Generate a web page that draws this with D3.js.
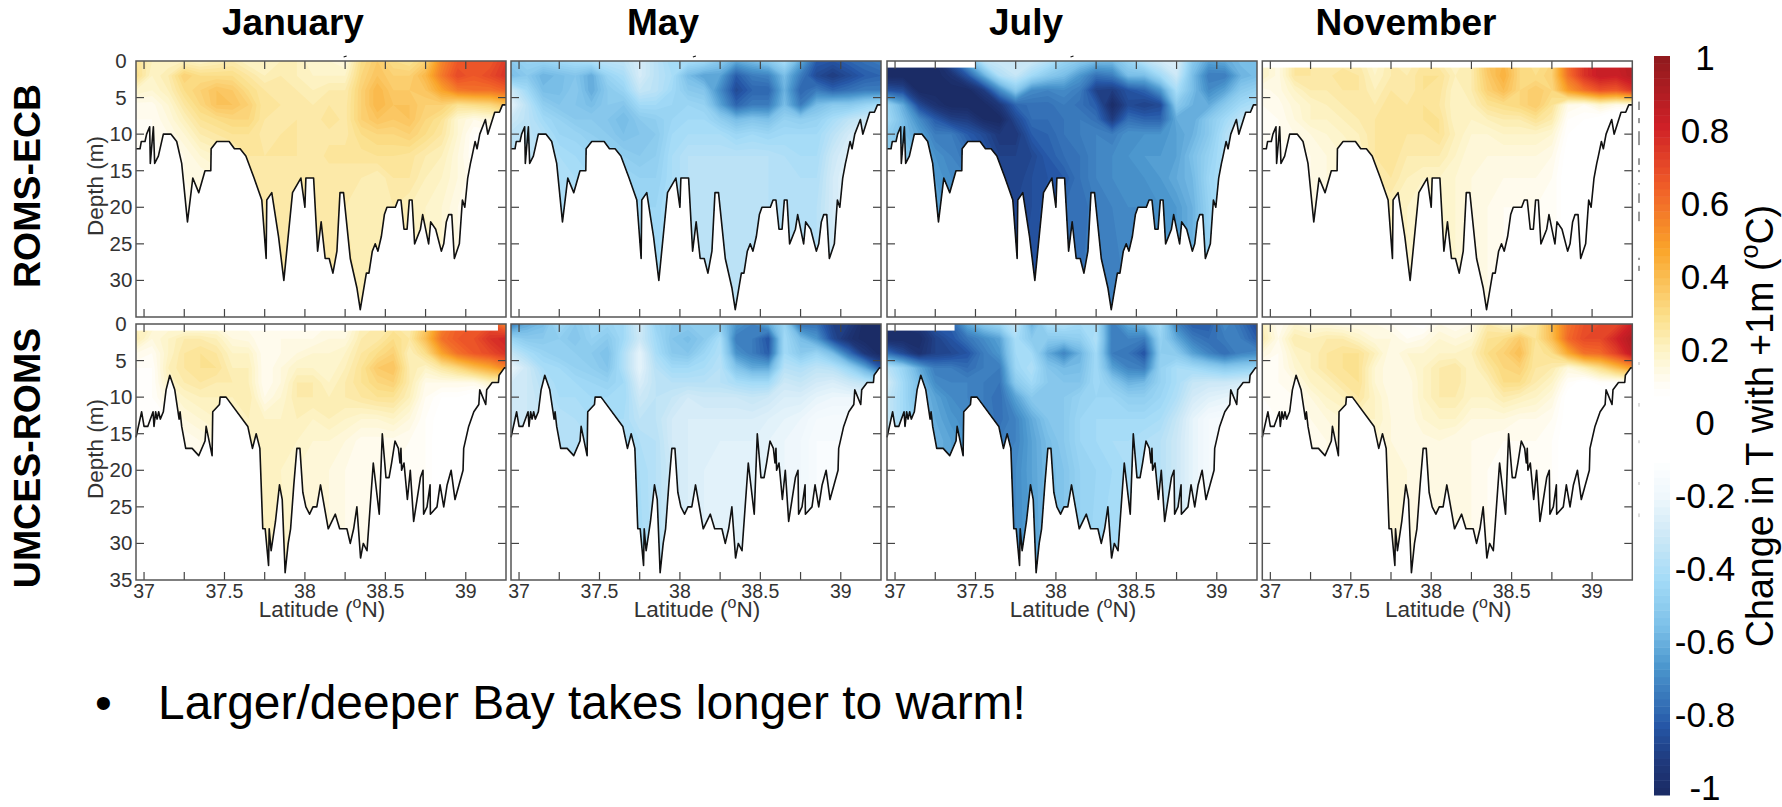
<!DOCTYPE html>
<html>
<head>
<meta charset="utf-8">
<script src="https://cdnjs.cloudflare.com/ajax/libs/d3/7.8.5/d3.min.js"></script>
<style>
    html, body { margin: 0; padding: 0; background: #fff; }
    svg { display: block; font-family: "Liberation Sans", Arial, sans-serif; }
</style>
</head>
<body>
<svg width="1782" height="807"></svg>
<script>
// ---- data ----
const months = ["January", "May", "July", "November"]
const models = ["ROMS-ECB", "UMCES-ROMS"]

const xTicks = [37, 37.25, 37.5, 37.75, 38, 38.25, 38.5, 38.75, 39, 39.25]
const xLabels = [37, 37.5, 38, 38.5, 39]
const yTicks = [0, 5, 10, 15, 20, 25, 30, 35]
const barLabels = ["1", "0.8", "0.6", "0.4", "0.2", "0", "-0.2", "-0.4", "-0.6", "-0.8", "-1"]

// colour bar stops
const colorStops = [-1, -.905, -.815, -.78, -.653, -.544, -.418, -.30, -.193, -.093, .08, .115, .204, .294, .475, .656, .81, 1]
const colorValues = ["#1b2a63", "#1f3a7d", "#2555a5", "#2e66b0", "#4b96cd", "#7cc0e8", "#a3dbf7", "#cce8f6", "#eef7fc", "#ffffff", "#ffffff", "#fffdf5", "#fdf3c6", "#fbe08c", "#faa52a", "#ef5a28", "#cf2027", "#8f1a1e"]

// bottom profile of each model
const ecbLat = [36.95,36.975,36.983,37.006,37.016,37.035,37.039,37.058,37.066,37.089,37.12,37.168,37.203,37.234,37.27,37.303,37.34,37.379,37.415,37.417,37.452,37.529,37.562,37.597,37.633,37.684,37.732,37.759,37.763,37.794,37.836,37.869,37.923,37.975,38.0,38.006,38.054,38.079,38.101,38.126,38.151,38.174,38.199,38.218,38.24,38.282,38.323,38.344,38.382,38.398,38.419,38.437,38.454,38.475,38.494,38.51,38.562,38.579,38.597,38.616,38.635,38.649,38.666,38.682,38.718,38.732,38.769,38.782,38.813,38.848,38.863,38.879,38.894,38.913,38.929,38.96,38.979,38.994,39.012,39.029,39.039,39.058,39.07,39.087,39.122,39.137,39.18,39.209,39.228,39.25]
const ecbDepth = [12,12,11,11,10,9,14,9,14,13,10,10,11,14,22,16,18,15,15,12,11,11,12,12,13,16,19,27,19,18,24,30,18,16,20,16,16,26,22,27,27,29,26,18,18,27,31,34,29,29,26,25,26,24,21,20,20,19,19,23,23,19,19,25,23,21,25,22,23,26,25,22,21,21,27,25,19,20,16,14,13,11,12,10,8,10,7,7,6,6]
const umcesLat = [36.95,36.985,37.0,37.023,37.056,37.062,37.072,37.081,37.091,37.101,37.12,37.137,37.16,37.191,37.218,37.224,37.234,37.259,37.299,37.34,37.379,37.386,37.423,37.427,37.469,37.473,37.51,37.645,37.674,37.697,37.72,37.738,37.753,37.774,37.778,37.79,37.817,37.842,37.859,37.877,37.896,37.911,37.931,37.95,37.969,37.987,38.006,38.029,38.05,38.074,38.097,38.145,38.189,38.216,38.261,38.282,38.303,38.323,38.346,38.363,38.386,38.425,38.462,38.481,38.504,38.523,38.539,38.56,38.581,38.591,38.597,38.601,38.616,38.637,38.655,38.676,38.697,38.718,38.734,38.738,38.759,38.778,38.78,38.821,38.84,38.863,38.884,38.909,38.933,38.983,38.987,39.018,39.05,39.081,39.087,39.124,39.13,39.164,39.203,39.207,39.24,39.25]
const umcesDepth = [15.5,12,14,14,12,14,12,13,12,13,12,9,7,9,13,12,14,17,17,18,16,14,18,12,11,10,10,14,17,15,17,28,28,33,28,31,27,22,24,34,30,28,22,17,17,23,25,26,25,25,22,28,26,28,28,30,28,25,32,30,31,19,26,15,21,21,19,16,17,19,17,20,19,24,20,27,24,21,20,26,25,22,26,25,22,25,22,20,24,20,17,14,12,11,9,11,9,8,8,7,6,6]

// grid of the change in temperature: one row per depth, one column per latitude
const gridLat = [36.95,37.05,37.15,37.25,37.35,37.45,37.55,37.65,37.75,37.85,37.95,38.05,38.15,38.25,38.35,38.45,38.55,38.65,38.75,38.85,38.95,39.05,39.15,39.25]
const gridDepth = [0, 2, 4, 6, 8, 10, 13, 16, 20, 35]

const ecbJanuary = [
    [.28,.22,.2,.22,.2,.22,.24,.2,.2,.22,.22,.18,.18,.16,.3,.36,.3,.28,.34,.55,.66,.66,.66,.74],
    [.3,.2,.24,.34,.3,.3,.3,.26,.22,.24,.22,.2,.2,.2,.32,.38,.34,.34,.42,.58,.7,.66,.7,.76],
    [.2,.18,.22,.3,.34,.38,.36,.3,.26,.25,.24,.22,.24,.24,.34,.42,.36,.36,.38,.48,.58,.6,.6,.64],
    [.13,.13,.18,.26,.32,.38,.38,.34,.26,.26,.25,.24,.26,.25,.34,.42,.38,.38,.34,.34,.28,.3,.32,.38],
    [.12,.12,.16,.22,.28,.3,.32,.32,.26,.25,.26,.24,.28,.25,.34,.38,.36,.38,.32,.28,.18,.14,.16,.2],
    [.12,.12,.14,.18,.24,.26,.28,.28,.25,.26,.26,.25,.25,.25,.3,.32,.32,.34,.3,.26,.18,.1,.1,.1],
    [.1,.1,.12,.14,.18,.2,.22,.26,.26,.26,.26,.24,.27,.27,.27,.28,.28,.27,.24,.22,.16,.1,.1,.1],
    [.1,.1,.12,.14,.14,.16,.2,.24,.24,.24,.24,.24,.24,.24,.24,.22,.26,.26,.22,.2,.16,.12,.1,.1],
    [.1,.1,.1,.12,.14,.16,.2,.22,.24,.24,.24,.24,.24,.24,.22,.22,.24,.22,.2,.18,.14,.1,.1,.1],
    [.1,.1,.1,.12,.14,.16,.2,.22,.24,.24,.24,.24,.24,.24,.24,.22,.22,.22,.2,.18,.14,.1,.1,.1]
]
const ecbMay = [
    [-.5,-.45,-.45,-.42,-.4,-.38,-.35,-.34,-.27,-.35,-.42,-.4,-.42,-.5,-.6,-.55,-.5,-.4,-.6,-.8,-.82,-.78,-.75,-.72],
    [-.55,-.5,-.58,-.55,-.52,-.6,-.45,-.4,-.27,-.35,-.4,-.55,-.62,-.62,-.8,-.72,-.7,-.55,-.72,-.85,-.9,-.85,-.8,-.78],
    [-.3,-.42,-.55,-.55,-.5,-.6,-.5,-.45,-.32,-.35,-.42,-.5,-.52,-.68,-.85,-.78,-.78,-.58,-.78,-.72,-.78,-.75,-.72,-.72],
    [-.22,-.35,-.48,-.52,-.52,-.55,-.5,-.52,-.42,-.42,-.44,-.44,-.46,-.62,-.78,-.72,-.72,-.55,-.72,-.55,-.5,-.5,-.45,-.4],
    [-.3,-.35,-.42,-.46,-.5,-.5,-.52,-.56,-.5,-.48,-.44,-.42,-.42,-.48,-.55,-.52,-.54,-.46,-.48,-.46,-.4,-.34,-.3,-.3],
    [-.35,-.35,-.38,-.44,-.45,-.48,-.5,-.54,-.52,-.5,-.42,-.4,-.4,-.4,-.44,-.42,-.44,-.42,-.42,-.42,-.35,-.28,-.25,-.25],
    [-.35,-.35,-.36,-.4,-.42,-.44,-.46,-.48,-.5,-.48,-.4,-.36,-.36,-.36,-.36,-.36,-.36,-.38,-.4,-.4,-.3,-.24,-.22,-.22],
    [-.36,-.36,-.36,-.4,-.4,-.42,-.44,-.44,-.46,-.46,-.4,-.36,-.36,-.35,-.35,-.36,-.36,-.38,-.38,-.38,-.28,-.22,-.2,-.2],
    [-.36,-.36,-.36,-.4,-.4,-.42,-.42,-.42,-.44,-.44,-.38,-.36,-.36,-.36,-.36,-.36,-.36,-.38,-.38,-.36,-.28,-.22,-.2,-.2],
    [-.36,-.36,-.36,-.42,-.4,-.42,-.42,-.42,-.42,-.42,-.38,-.36,-.36,-.36,-.36,-.36,-.36,-.38,-.38,-.36,-.28,-.22,-.2,-.2]
]
const ecbJuly = [
    [-1,-1,-1,-.98,-.8,-.58,-.34,-.3,-.3,-.3,-.36,-.45,-.5,-.55,-.55,-.45,-.35,-.28,-.25,-.5,-.62,-.6,-.55,-.55],
    [-1,-1,-1,-1,-.95,-.82,-.6,-.38,-.32,-.42,-.5,-.55,-.65,-.75,-.72,-.55,-.55,-.42,-.3,-.55,-.72,-.72,-.58,-.55],
    [-.82,-.85,-1,-1,-1,-1,-.9,-.68,-.5,-.68,-.7,-.68,-.72,-.88,-.9,-.82,-.78,-.65,-.4,-.55,-.68,-.62,-.5,-.46],
    [-.45,-.6,-.85,-.95,-1,-1,-1,-.92,-.78,-.75,-.75,-.72,-.75,-.8,-.98,-.85,-.88,-.85,-.5,-.58,-.6,-.5,-.42,-.38],
    [-.42,-.55,-.68,-.8,-.88,-.9,-.98,-1,-.86,-.76,-.76,-.74,-.72,-.75,-.9,-.75,-.78,-.78,-.6,-.6,-.5,-.42,-.34,-.3],
    [-.48,-.55,-.62,-.72,-.72,-.8,-.85,-.92,-.92,-.8,-.78,-.74,-.72,-.7,-.72,-.66,-.66,-.66,-.62,-.58,-.5,-.38,-.3,-.3],
    [-.5,-.5,-.56,-.66,-.7,-.74,-.8,-.88,-.88,-.86,-.8,-.76,-.74,-.7,-.68,-.66,-.64,-.64,-.62,-.54,-.46,-.38,-.3,-.3],
    [-.5,-.5,-.55,-.64,-.68,-.7,-.74,-.85,-.88,-.84,-.82,-.8,-.74,-.7,-.68,-.66,-.66,-.64,-.6,-.56,-.44,-.38,-.3,-.3],
    [-.5,-.5,-.55,-.62,-.66,-.7,-.74,-.82,-.86,-.84,-.8,-.76,-.76,-.72,-.7,-.68,-.68,-.66,-.64,-.58,-.46,-.38,-.3,-.3],
    [-.5,-.5,-.55,-.62,-.66,-.7,-.74,-.82,-.84,-.84,-.78,-.74,-.74,-.72,-.72,-.7,-.7,-.66,-.64,-.58,-.46,-.38,-.3,-.3]
]
const ecbNovember = [
    [.2,.15,.26,.26,.24,.24,.24,.18,.24,.22,.26,.24,.2,.24,.38,.42,.32,.28,.32,.62,.76,.84,.84,.88],
    [.2,.15,.26,.26,.25,.28,.26,.2,.24,.24,.28,.28,.22,.24,.36,.44,.32,.3,.34,.6,.76,.84,.82,.88],
    [.13,.15,.2,.24,.24,.26,.26,.22,.26,.24,.28,.27,.2,.24,.34,.4,.32,.36,.32,.5,.6,.68,.66,.75],
    [.12,.13,.17,.2,.22,.24,.24,.24,.28,.26,.28,.26,.2,.22,.28,.3,.32,.36,.28,.14,.12,.18,.14,.14],
    [.12,.12,.16,.2,.2,.22,.24,.26,.27,.26,.28,.28,.2,.2,.22,.24,.24,.28,.24,.1,.08,.05,0,0],
    [.12,.12,.14,.16,.18,.2,.22,.26,.28,.26,.26,.28,.22,.18,.18,.2,.2,.2,.18,.08,0,0,0,0],
    [.12,.12,.12,.14,.16,.18,.2,.26,.28,.24,.24,.24,.2,.16,.16,.16,.16,.16,.14,.06,0,-.05,0,0],
    [.12,.12,.12,.14,.16,.18,.2,.24,.26,.22,.2,.2,.18,.16,.14,.14,.14,.14,.12,.05,0,0,0,0],
    [.1,.1,.12,.14,.16,.18,.18,.22,.22,.2,.18,.18,.18,.16,.14,.12,.12,.12,.12,.05,0,0,0,0],
    [.1,.1,.12,.14,.16,.18,.18,.22,.22,.2,.18,.18,.18,.16,.14,.12,.12,.12,.12,.05,0,0,0,0]
]
const umcesJanuary = [
    [.22,.2,.16,.14,.14,.15,.14,.13,.15,.13,.12,.12,.14,.12,.22,.24,.26,.24,.36,.55,.64,.66,.68,.55],
    [.24,.16,.2,.24,.24,.22,.16,.15,.12,.14,.14,.14,.16,.16,.24,.25,.3,.26,.4,.6,.66,.68,.76,.8],
    [.14,.12,.2,.26,.28,.26,.2,.2,.12,.14,.16,.18,.18,.2,.26,.3,.34,.22,.3,.48,.6,.66,.7,.76],
    [.1,.1,.22,.26,.28,.28,.22,.22,.12,.16,.2,.2,.18,.22,.28,.36,.38,.24,.2,.26,.32,.4,.46,.55],
    [.08,.1,.2,.24,.26,.24,.24,.22,.12,.16,.24,.24,.2,.24,.28,.32,.34,.24,.14,.14,.14,.14,.2,.2],
    [.1,.1,.16,.2,.22,.22,.22,.24,.14,.18,.24,.24,.22,.24,.26,.28,.28,.22,.12,.08,.08,.05,.05,.05],
    [.1,.1,.1,.16,.18,.2,.2,.22,.2,.2,.22,.2,.22,.2,.18,.18,.2,.16,.1,.06,.05,.05,.05,.05],
    [.1,.1,.1,.12,.14,.16,.16,.2,.2,.2,.2,.18,.18,.16,.13,.13,.13,.12,.1,.05,.05,.05,.05,.05],
    [.1,.1,.1,.12,.14,.15,.15,.2,.2,.2,.18,.16,.16,.14,.13,.12,.12,.12,.1,.05,.05,.05,.05,.05],
    [.1,.1,.1,.12,.14,.15,.15,.2,.22,.22,.18,.16,.16,.14,.13,.12,.12,.12,.1,.05,.05,.05,.05,.05]
]
const umcesMay = [
    [-.72,-.6,-.55,-.42,-.5,-.45,-.45,-.42,-.28,-.45,-.5,-.5,-.48,-.5,-.65,-.7,-.6,-.45,-.75,-.75,-.88,-.9,-1,-1],
    [-.45,-.5,-.5,-.48,-.52,-.46,-.5,-.42,-.3,-.42,-.52,-.55,-.5,-.4,-.72,-.72,-.82,-.42,-.55,-.65,-.85,-.95,-1,-1],
    [-.32,-.4,-.45,-.48,-.48,-.5,-.54,-.38,-.22,-.4,-.5,-.52,-.44,-.38,-.66,-.72,-.8,-.42,-.5,-.45,-.55,-.75,-.92,-1],
    [-.2,-.3,-.4,-.42,-.46,-.48,-.52,-.38,-.22,-.36,-.42,-.42,-.4,-.36,-.52,-.6,-.6,-.36,-.38,-.34,-.36,-.45,-.6,-.8],
    [-.28,-.3,-.36,-.42,-.42,-.44,-.46,-.42,-.26,-.34,-.36,-.36,-.36,-.36,-.4,-.42,-.42,-.3,-.32,-.28,-.26,-.3,-.34,-.4],
    [-.3,-.3,-.34,-.4,-.4,-.42,-.42,-.42,-.3,-.34,-.32,-.28,-.3,-.3,-.3,-.32,-.3,-.26,-.26,-.22,-.2,-.2,-.2,-.2],
    [-.3,-.3,-.32,-.36,-.38,-.4,-.4,-.4,-.34,-.34,-.28,-.26,-.26,-.26,-.26,-.26,-.24,-.22,-.2,-.16,-.15,-.15,-.15,-.15],
    [-.3,-.3,-.32,-.36,-.38,-.38,-.38,-.4,-.38,-.36,-.28,-.26,-.26,-.24,-.24,-.24,-.22,-.2,-.18,-.14,-.14,-.14,-.14,-.14],
    [-.3,-.3,-.32,-.36,-.38,-.38,-.38,-.4,-.4,-.36,-.3,-.26,-.24,-.24,-.24,-.22,-.22,-.2,-.18,-.14,-.14,-.14,-.14,-.14],
    [-.3,-.3,-.32,-.36,-.38,-.38,-.38,-.42,-.42,-.36,-.3,-.26,-.24,-.22,-.22,-.22,-.22,-.2,-.18,-.14,-.14,-.14,-.14,-.14]
]
const umcesJuly = [
    [-.98,-.95,-.92,-.8,-.78,-.6,-.5,-.44,-.32,-.58,-.4,-.38,-.42,-.4,-.72,-.6,-.55,-.42,-.7,-.8,-.8,-.68,-.75,-.85],
    [-.98,-.98,-.98,-.88,-.82,-.74,-.68,-.62,-.4,-.5,-.5,-.5,-.48,-.38,-.72,-.7,-.72,-.46,-.6,-.72,-.76,-.72,-.72,-.8],
    [-.75,-.85,-.95,-.88,-.86,-.82,-.72,-.65,-.42,-.42,-.6,-.7,-.58,-.42,-.72,-.74,-.82,-.48,-.5,-.62,-.7,-.76,-.7,-.68],
    [-.35,-.45,-.6,-.72,-.72,-.76,-.72,-.72,-.44,-.38,-.52,-.56,-.55,-.42,-.62,-.7,-.72,-.46,-.4,-.42,-.46,-.5,-.48,-.46],
    [-.28,-.42,-.55,-.68,-.7,-.7,-.72,-.74,-.5,-.42,-.5,-.52,-.52,-.42,-.5,-.58,-.56,-.46,-.4,-.32,-.3,-.3,-.28,-.25],
    [-.32,-.42,-.55,-.62,-.68,-.7,-.72,-.76,-.62,-.5,-.52,-.5,-.46,-.44,-.44,-.48,-.48,-.44,-.38,-.28,-.24,-.22,-.2,-.2],
    [-.32,-.42,-.5,-.6,-.65,-.68,-.72,-.75,-.7,-.6,-.52,-.5,-.44,-.42,-.42,-.42,-.42,-.4,-.32,-.22,-.16,-.15,-.15,-.15],
    [-.32,-.42,-.5,-.58,-.62,-.66,-.7,-.72,-.7,-.62,-.55,-.5,-.44,-.42,-.4,-.4,-.38,-.36,-.3,-.22,-.16,-.15,-.15,-.15],
    [-.32,-.42,-.5,-.58,-.62,-.66,-.7,-.7,-.68,-.62,-.56,-.52,-.46,-.44,-.42,-.4,-.38,-.36,-.3,-.22,-.16,-.15,-.15,-.15],
    [-.32,-.42,-.5,-.58,-.62,-.66,-.7,-.7,-.68,-.64,-.56,-.52,-.46,-.42,-.4,-.38,-.36,-.34,-.3,-.22,-.16,-.15,-.15,-.15]
]
const umcesNovember = [
    [.22,.12,.18,.16,.16,.14,.14,.14,.12,.1,.08,.14,.12,.14,.24,.2,.2,.26,.42,.6,.68,.7,.7,.82],
    [.24,.14,.24,.22,.24,.24,.2,.16,.16,.12,.14,.18,.16,.18,.28,.3,.36,.28,.4,.62,.7,.7,.8,.9],
    [.16,.12,.2,.22,.26,.28,.28,.22,.14,.18,.18,.2,.2,.22,.3,.34,.4,.26,.3,.46,.6,.62,.72,.86],
    [.1,.12,.18,.22,.26,.28,.28,.18,.14,.16,.2,.24,.26,.2,.26,.32,.34,.26,.24,.16,.22,.3,.4,.5],
    [.1,.12,.14,.2,.22,.26,.28,.18,.14,.14,.2,.24,.26,.2,.22,.3,.3,.24,.2,.1,.06,.1,.1,.1],
    [.1,.12,.12,.16,.2,.22,.26,.2,.15,.14,.2,.24,.24,.2,.2,.24,.22,.2,.16,.06,0,0,0,0],
    [.1,.1,.1,.14,.16,.18,.2,.2,.16,.14,.18,.2,.2,.16,.16,.16,.14,.14,.12,.06,0,0,0,0],
    [.1,.1,.1,.12,.14,.16,.18,.18,.16,.14,.15,.16,.14,.14,.13,.12,.12,.12,.1,.05,0,0,0,0],
    [.1,.1,.1,.12,.14,.16,.16,.16,.16,.16,.14,.14,.14,.14,.12,.12,.12,.12,.1,.05,0,0,0,0],
    [.1,.1,.1,.12,.14,.16,.16,.16,.16,.16,.14,.14,.14,.14,.12,.12,.12,.12,.1,.05,0,0,0,0]
]

// where the top layer has no values: [from latitude, to latitude], null when filled
const ecbTopGaps = [null, null, [36.95, 37.5], [36.95, 39.25]]
const umcesTopGaps = [[36.95, 39.2], null, [36.95, 37.37], null]
const topGapDepth = 0.9

// stray marks of the original figure
const strayLat = [38.25, 38.09, 38.10]
const ecbSideMarks = [[5.55,6.7],[7.8,8.5],[9.6,11.5],[13.3,14.2],[14.9,15.2],[16.7,16.9],[18.1,19.4],[20.6,21.9],[26.9,27.2],[28,28.7]]
const umcesSideMarks = [[5.2,5.6],[10.8,11.3],[15.9,16.3],[21.6,22],[25.9,26.4]]

// ---- layout ----
const panelLeft = [136, 511, 887, 1262.3]
const panelWidth = 370
const rowTop = [61, 324]
const panelHeight = 256
const tickLen = 8

const rows = [
    { name: models[0], lat: ecbLat, depth: ecbDepth, grids: [ecbJanuary, ecbMay, ecbJuly, ecbNovember], gaps: ecbTopGaps, center: 186 },
    { name: models[1], lat: umcesLat, depth: umcesDepth, grids: [umcesJanuary, umcesMay, umcesJuly, umcesNovember], gaps: umcesTopGaps, center: 458 }
]

const svg = d3.select("svg")
const color = d3.scaleLinear().domain(colorStops).range(colorValues)
const levels = d3.range(0, 100).map(i => -1 + i / 50)
const levelStep = 0.02

function latIndex(n) { return d3.range(n).map(i => i + 0.5) }

function drawPanel(row, col, rowIdx) {
    const left = panelLeft[col], top = rowTop[rowIdx]
    const x = d3.scaleLinear().domain([36.95, 39.25]).range([left, left + panelWidth])
    const y = d3.scaleLinear().domain([0, 35]).range([top, top + panelHeight])
    const g = svg.append("g")

    // grid cells -> pixels
    const gx = d3.scaleLinear().domain(latIndex(gridLat.length)).range(gridLat.map(x)).clamp(true)
    const gy = d3.scaleLinear().domain(latIndex(gridDepth.length)).range(gridDepth.map(y)).clamp(true)
    const path = d3.geoPath(d3.geoTransform({
        point: function(a, b) { this.stream.point(gx(a), gy(b)) }
    }))

    const clipId = "clip" + rowIdx + "_" + col
    const area = d3.area()
        .x((d, i) => x(row.lat[i]))
        .y0(top)
        .y1(d => y(d))
    g.append("clipPath").attr("id", clipId).append("path").attr("d", area(row.depth))

    const contours = d3.contours()
        .size([gridLat.length, gridDepth.length])
        .thresholds(levels)(row.grids[col].flat())
    const field = g.append("g").attr("clip-path", "url(#" + clipId + ")")
    field.selectAll("path").data(contours.filter(c => c.coordinates.length > 0)).join("path")
        .attr("d", path)
        .attr("fill", d => color(d.value + levelStep / 2))

    const gap = row.gaps[col]
    if (gap) {
        field.append("rect")
            .attr("x", x(gap[0])).attr("y", y(0))
            .attr("width", x(gap[1]) - x(gap[0]))
            .attr("height", y(topGapDepth) - y(0))
            .attr("fill", "#fff")
    }

    // bottom line
    const line = d3.line().x((d, i) => x(row.lat[i])).y(d => y(d))
    g.append("path").attr("d", line(row.depth))
        .attr("fill", "none").attr("stroke", "#111").attr("stroke-width", 1.6).attr("stroke-linejoin", "round")

    // ticks point inward on all four sides
    const ticks = g.append("g").attr("stroke", "#444").attr("stroke-width", 1.2)
    xTicks.slice(0, -1).forEach(t => {
        ticks.append("line").attr("x1", x(t)).attr("x2", x(t)).attr("y1", top).attr("y2", top + tickLen)
        ticks.append("line").attr("x1", x(t)).attr("x2", x(t)).attr("y1", top + panelHeight).attr("y2", top + panelHeight - tickLen)
    })
    yTicks.slice(1, -1).forEach(t => {
        ticks.append("line").attr("x1", left).attr("x2", left + tickLen).attr("y1", y(t)).attr("y2", y(t))
        ticks.append("line").attr("x1", left + panelWidth).attr("x2", left + panelWidth - tickLen).attr("y1", y(t)).attr("y2", y(t))
    })
    g.append("rect").attr("x", left).attr("y", top).attr("width", panelWidth).attr("height", panelHeight)
        .attr("fill", "none").attr("stroke", "#555").attr("stroke-width", 1.5)

    if (col == 0) {
        const labels = rowIdx == 0 ? yTicks.slice(0, -1) : yTicks
        g.selectAll("text.depth").data(labels).join("text")
            .attr("class", "depth")
            .attr("x", 121).attr("y", d => y(d) + 7)
            .attr("text-anchor", "middle").attr("font-size", 20.5).attr("fill", "#333")
            .text(d => d)
        g.append("text")
            .attr("transform", "translate(103," + (top + 128 - 3) + ") rotate(-90)")
            .attr("text-anchor", "middle").attr("font-size", 22.5).attr("fill", "#333")
            .text("Depth (m)")
    }

    if (rowIdx == 1) {
        g.selectAll("text.lat").data(xLabels).join("text")
            .attr("class", "lat")
            .attr("x", d => x(d)).attr("y", 597.5)
            .attr("text-anchor", "middle").attr("font-size", 19.5).attr("fill", "#333")
            .text(d => d)
        const lab = g.append("text")
            .attr("x", left + panelWidth / 2 + 1).attr("y", 617)
            .attr("text-anchor", "middle").attr("font-size", 22.5).attr("fill", "#333")
        lab.append("tspan").text("Latitude (")
        lab.append("tspan").attr("font-size", 16).attr("dy", -9).text("o")
        lab.append("tspan").attr("dy", 9).text("N)")
    }

    if (rowIdx == 0 && col < 3) {
        g.append("line")
            .attr("x1", x(strayLat[col]) - 1.5).attr("x2", x(strayLat[col]) + 1.5)
            .attr("y1", 57).attr("y2", 56)
            .attr("stroke", "#111").attr("stroke-width", 1.2)
    }
}

rows.forEach((row, rowIdx) => {
    months.forEach((m, col) => drawPanel(row, col, rowIdx))
    svg.append("text")
        .attr("transform", "translate(40," + row.center + ") rotate(-90)")
        .attr("text-anchor", "middle").attr("font-size", 37.5).attr("font-weight", "bold")
        .text(row.name)
})

// month titles
svg.selectAll("text.month").data(months).join("text")
    .attr("class", "month")
    .attr("x", (d, i) => [293, 663, 1026, 1406][i]).attr("y", 35)
    .attr("text-anchor", "middle").attr("font-size", 37).attr("font-weight", "bold")
    .text(d => d)

// marks right of the last column
const sideX = 1639
const sideY = [d3.scaleLinear().domain([0, 35]).range([rowTop[0], rowTop[0] + panelHeight]), d3.scaleLinear().domain([0, 35]).range([rowTop[1], rowTop[1] + panelHeight])]
ecbSideMarks.forEach(m => svg.append("line").attr("x1", sideX).attr("x2", sideX).attr("y1", sideY[0](m[0])).attr("y2", sideY[0](m[1])).attr("stroke", "#333").attr("stroke-width", 1))
umcesSideMarks.forEach(m => svg.append("line").attr("x1", sideX).attr("x2", sideX).attr("y1", sideY[1](m[0])).attr("y2", sideY[1](m[1])).attr("stroke", "#bbb").attr("stroke-width", 1))

// colour bar
const barY = d3.scaleLinear().domain([1, -1]).range([56, 795])
svg.selectAll("rect.bar").data(levels).join("rect")
    .attr("class", "bar")
    .attr("x", 1654).attr("width", 16)
    .attr("y", d => barY(d + levelStep))
    .attr("height", d => barY(d) - barY(d + levelStep) + 0.5)
    .attr("fill", d => color(d + levelStep / 2))

const barLabelY = d3.scaleLinear().domain([1, -1]).range([57, 787])
svg.selectAll("text.barlabel").data(barLabels).join("text")
    .attr("class", "barlabel")
    .attr("x", 1705).attr("y", d => barLabelY(+d) + 12.5)
    .attr("text-anchor", "middle").attr("font-size", 35)
    .text(d => d)

const barTitle = svg.append("text")
    .attr("transform", "translate(1773,426) rotate(-90) scale(0.965,1)")
    .attr("text-anchor", "middle").attr("font-size", 39)
barTitle.append("tspan").text("Change in T with +1m (")
barTitle.append("tspan").attr("font-size", 26).attr("dy", -15).text("o")
barTitle.append("tspan").attr("dy", 15).text("C)")

// bullet line
svg.append("text").attr("x", 95).attr("y", 719).attr("font-size", 48).text("•")
svg.append("text").attr("x", 158).attr("y", 719).attr("font-size", 47.9).text("Larger/deeper Bay takes longer to warm!")
</script>
</body>
</html>
